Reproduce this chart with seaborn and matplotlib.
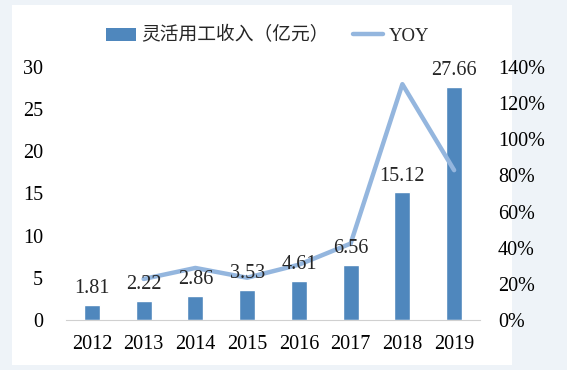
import numpy as np
import pandas as pd
import matplotlib.pyplot as plt
import seaborn as sns
from matplotlib.patches import Rectangle
from matplotlib.lines import Line2D
from matplotlib.patches import Patch

sns.set_style("white")
plt.rcParams['font.family'] = ['Liberation Serif', 'Noto Sans CJK SC']

# data
years = ['2012', '2013', '2014', '2015', '2016', '2017', '2018', '2019']
revenue = [1.81, 2.22, 2.86, 3.53, 4.61, 6.56, 15.12, 27.66]
yoy = [np.nan, 0.227, 0.288, 0.234, 0.306, 0.423, 1.305, 0.829]

bar_color = '#4f87bd'
line_color = '#94b6de'

df = pd.DataFrame({'year': years, 'revenue': revenue, 'yoy': yoy})

fig = plt.figure(figsize=(5.67, 3.70), dpi=100)
fig.patch.set_facecolor('#eef3f8')
# white panel behind the chart
fig.patches.append(Rectangle((12 / 567, 5 / 370), 500 / 567, 360 / 370,
                             transform=fig.transFigure, facecolor='white',
                             edgecolor='none', zorder=-10))

ax = fig.add_axes([66 / 567, 50 / 370, 414 / 567, 253 / 370])
ax.set_facecolor('none')
sns.barplot(data=df, x='year', y='revenue', color=bar_color, width=0.31,
            saturation=1, ax=ax, zorder=2)
ax.set_xlim(-0.5, 7.5)
ax.set_ylim(0, 30)
ax.set_yticks(range(0, 31, 5))
ax.set_xlabel('')
ax.set_ylabel('')
for s in ['top', 'right', 'left']:
    ax.spines[s].set_visible(False)
ax.spines['bottom'].set_color('#d0d0d0')
ax.tick_params(axis='both', length=0, labelsize=14.5, colors='black')
ax.tick_params(axis='x', pad=11)
ax.tick_params(axis='y', pad=16.5)

ax2 = ax.twinx()
sns.lineplot(x=np.arange(len(years)), y=yoy, color=line_color, linewidth=3.2,
             ax=ax2)
ax2.set_ylim(0, 1.4)
ax2.set_yticks(np.arange(0, 1.41, 0.2))
ax2.set_yticklabels([f'{int(round(t * 100))}%' for t in np.arange(0, 1.41, 0.2)])
for s in ax2.spines.values():
    s.set_visible(False)
ax2.tick_params(axis='y', length=0, labelsize=14.5, colors='black', pad=13)

# value labels on top of the line
for i, v in enumerate(revenue):
    ax2.annotate(f'{v:.2f}', (i, v), xycoords=ax.transData, xytext=(0, 5),
                 textcoords='offset points', ha='center', va='bottom',
                 fontsize=14.5)

handles = [Patch(facecolor=bar_color, edgecolor='none'),
           Line2D([], [], color=line_color, linewidth=3.2)]
fig.legend(handles, ['灵活用工收入（亿元）', 'YOY'], loc='center',
           bbox_to_anchor=(0.472, 0.905), ncol=2, frameon=False,
           prop={'family': ['Noto Sans CJK SC'], 'size': 13.5},
           handlelength=1.6, handletextpad=0.3, columnspacing=1.3)
for t in fig.legends[0].get_texts():
    if t.get_text() == 'YOY':
        t.set_family(['Liberation Serif'])
        t.set_fontsize(13.5)

fig.savefig('out.png', dpi=100, facecolor=fig.get_facecolor())
